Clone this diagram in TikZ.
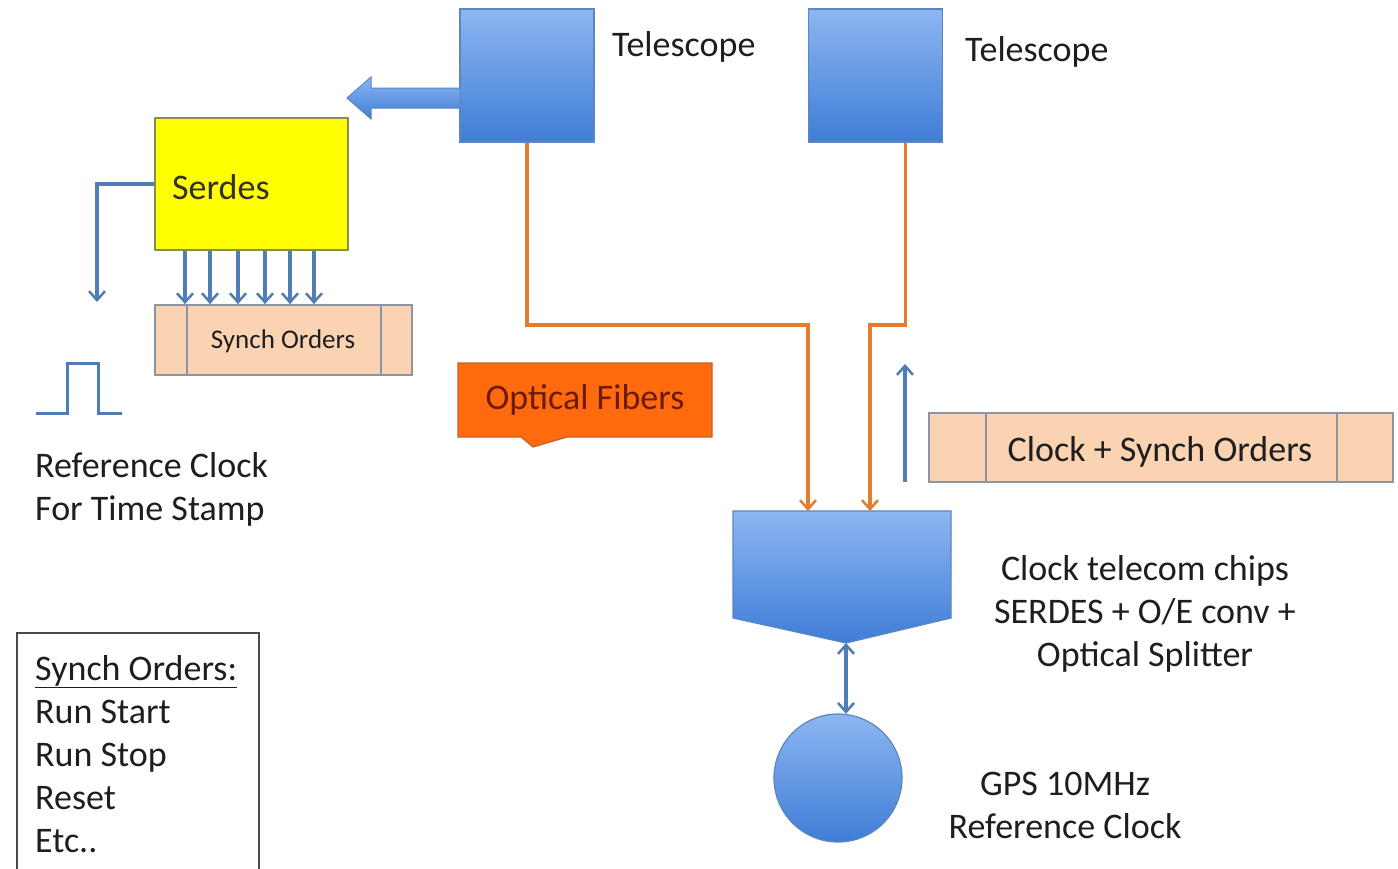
\documentclass[tikz,border=0pt]{standalone}
\usepackage{fontspec}
\setmainfont{Carlito}
\usetikzlibrary{arrows.meta,calc,shapes.callouts}

\definecolor{bluetop}{HTML}{8DB6F2}
\definecolor{bluebot}{HTML}{3F7DD6}
\definecolor{blueedge}{HTML}{5B86BE}
\definecolor{wire}{HTML}{4F7DB4}
\definecolor{fiber}{HTML}{E17C30}
\definecolor{peach}{HTML}{FAD3B3}
\definecolor{peachedge}{HTML}{8E94A2}
\definecolor{serdesfill}{HTML}{FFFF00}
\definecolor{serdesedge}{HTML}{8C8C50}
\definecolor{calloutfill}{HTML}{FF6A0E}
\definecolor{calloutedge}{HTML}{C4641E}
\definecolor{callouttext}{HTML}{6E1A08}
\definecolor{ink}{HTML}{1E1E1E}

\tikzset{
  bluebox/.style={draw=blueedge, line width=1.2pt, top color=bluetop, bottom color=bluebot,
    minimum width=134pt, minimum height=133pt, inner sep=0pt},
  label/.style={inner sep=0pt, text=ink, font=\fontsize{36}{43}\selectfont},
  wirearrow/.style={draw=wire, line width=3.2pt, -{Straight Barb[length=9pt,width=16pt,line width=2.5pt]}},
  fiberarrow/.style={draw=fiber, line width=3.2pt, -{Straight Barb[length=9pt,width=16pt,line width=2.5pt]}},
  framebox/.style={draw=peachedge, line width=1.8pt, fill=peach, inner sep=0pt},
}

\begin{document}
\begin{tikzpicture}[x=1pt, y=-1pt]
\useasboundingbox[fill=white] (0,0) rectangle (1398,868);

% telescopes
\node[bluebox] (tel1) at (527,75.5) {};
\node[bluebox] (tel2) at (875.5,75.5) {};
\node[label, anchor=west] (tel1lbl) at (612,47) {Telescope};
\node[label, anchor=west] (tel2lbl) at (965,52) {Telescope};

% block arrow leaving the first telescope
\shade[top color=bluetop, bottom color=bluebot, draw=blueedge, line width=1pt]
  (460,88) -- (371,88) -- (371,77) -- (347,98) -- (371,119) -- (371,108) -- (460,108) -- cycle;

% serdes block
\node[draw=serdesedge, line width=1.5pt, fill=serdesfill, minimum width=193pt, minimum height=132pt,
      inner sep=0pt] (serdes) at (251.5,184) {};
\node[label, anchor=west, text=black!85!olive] (serdeslbl) at (172,187) {Serdes};

% synch orders frame
\node[framebox, minimum width=257pt, minimum height=70pt] (so) at (283.5,340) {};
\draw[peachedge, line width=1.5pt] (so.north west) ++(33,0) -- ++(0,70)
      (so.north east) ++(-32,0) -- ++(0,70);
\node[label, font=\fontsize{27}{32}\selectfont] (solbl) at (283,341) {Synch Orders};

% parallel outputs of the serdes
\foreach \x [count=\i] in {185,210,238,265,290,314} {
  \coordinate (par\i) at (\x,0);
  \draw[wirearrow] (serdes.south -| par\i) -- (so.north -| par\i);
}

% reference clock output
\coordinate (clkout) at (97,302);
\draw[wirearrow] (serdes.west) -| (clkout);
\draw[wire, line width=3pt] (36,413) -- (67,413) -- (67,363) -- (98,363) -- (98,413) -- (122,413);
\node[label, anchor=west, align=left] (clklbl) at (35,489) {Reference Clock\\For Time Stamp};

% optical fibers label
\node[rectangle callout, draw=calloutedge, line width=1.2pt, fill=calloutfill,
      minimum width=254pt, minimum height=74pt, inner sep=0pt,
      callout pointer width=46pt, callout absolute pointer={(533,447)},
      text=callouttext, font=\fontsize{36}{43}\selectfont] (fibers) at (585,400) {Optical Fibers};

% clock telecom chips (pentagon pointing down)
\shade[top color=bluetop, bottom color=bluebot, draw=blueedge, line width=1.2pt]
  (733,511) -- (951,511) -- (951,618) -- (846,643) -- (733,618) -- cycle;
\node[inner sep=0pt, minimum width=218pt, minimum height=132pt] (chip) at (842,577) {};
\coordinate (chiptip) at (846,643);
\coordinate (chipin1) at (808,511);
\coordinate (chipin2) at (870,511);
\node[label, align=center] (chiplbl) at (1145,614) {Clock telecom chips\\SERDES + O/E conv +\\Optical Splitter};

% fibers from the telescopes to the chips
\coordinate (bend1) at (808,325);
\coordinate (bend2) at (870,325);
\coordinate (tel2out) at ($(tel2.south)+(30,0)$);
\draw[fiberarrow] (tel1.south) |- (bend1) -- (chipin1);
\draw[fiberarrow] (tel2out) |- (bend2) -- (chipin2);

% clock + synch orders frame
\node[framebox, minimum width=464pt, minimum height=69pt] (cso) at (1161,447.5) {};
\draw[peachedge, line width=1.5pt] (cso.north west) ++(58,0) -- ++(0,69)
      (cso.north east) ++(-57,0) -- ++(0,69);
\node[label] (csolbl) at (1160,452) {Clock + Synch Orders};
\coordinate (upfrom) at (905,482);
\coordinate (upto) at (905,364);
\draw[wirearrow] (upfrom) -- (upto);

% GPS reference clock
\shade[top color=bluetop, bottom color=bluebot, draw=blueedge, line width=1.2pt]
  (838,778) circle[radius=64];
\node[circle, minimum size=128pt, inner sep=0pt] (gps) at (838,778) {};
\draw[wire, line width=3.2pt, {Straight Barb[length=9pt,width=16pt,line width=2.5pt]}-{Straight Barb[length=9pt,width=16pt,line width=2.5pt]}]
  (chiptip) -- (gps.north -| chiptip);
\node[label, align=center] (gpslbl) at (1065,805) {GPS 10MHz\\Reference Clock};

% legend of synch orders
\node[draw=ink!80, line width=1.8pt, anchor=north west, minimum width=242pt, minimum height=280pt,
      inner sep=0pt] (legend) at (16,632) {};
\node[label, anchor=north west, align=left] (legendtxt) at (35,655)
  {\underline{Synch Orders:}\\Run Start\\Run Stop\\Reset\\Etc..};
\end{tikzpicture}
\end{document}
